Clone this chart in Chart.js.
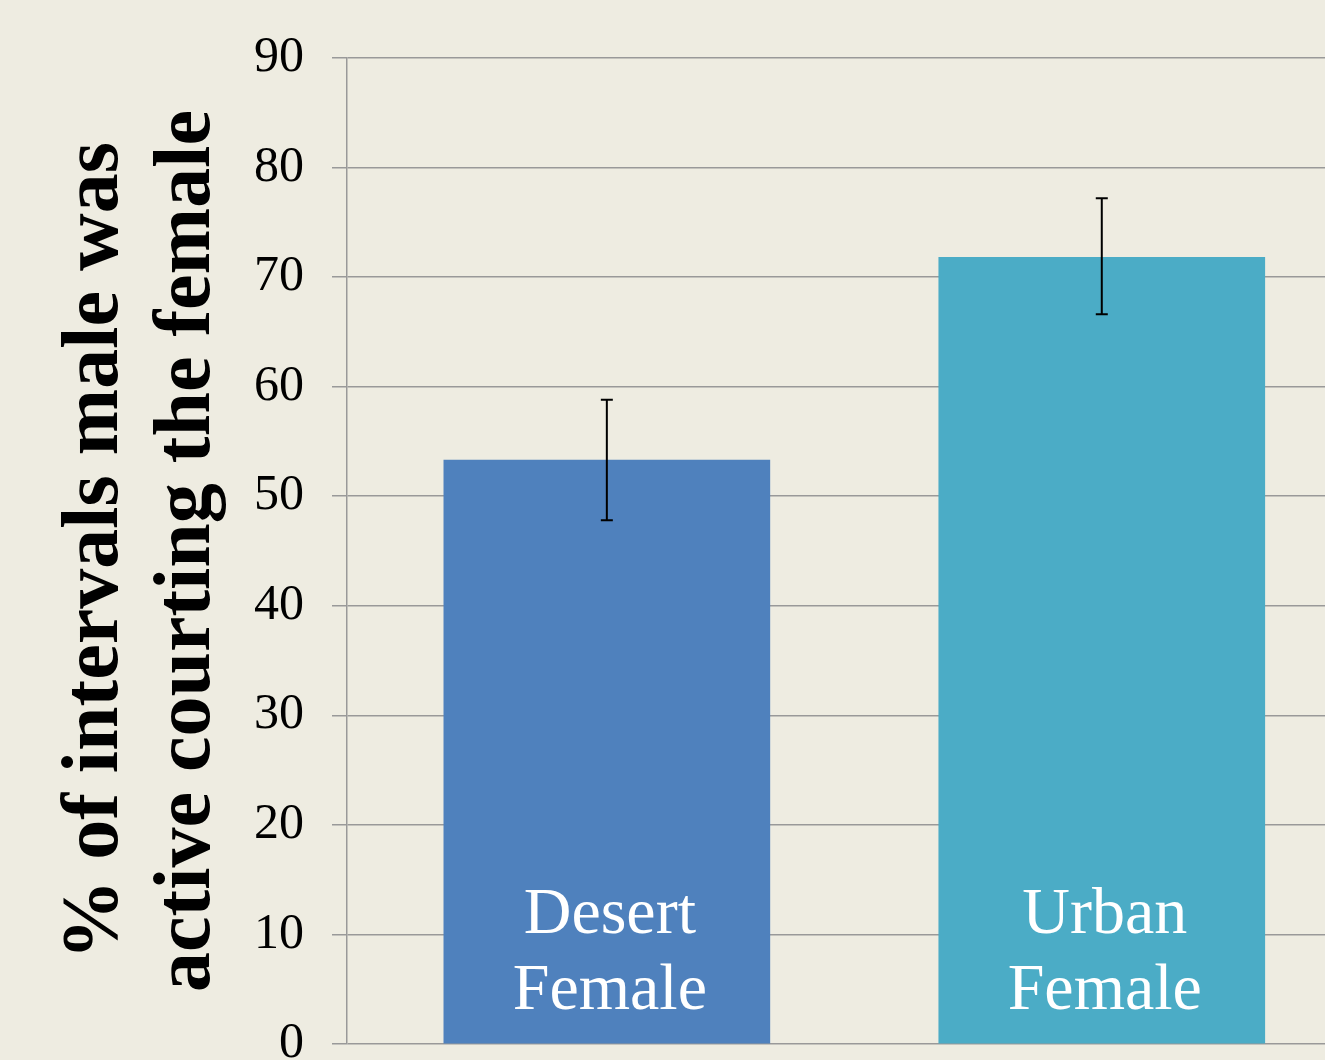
<!DOCTYPE html>
<html>
<head>
<meta charset="utf-8">
<script src="https://cdn.jsdelivr.net/npm/chart.js@4/dist/chart.umd.min.js"></script>
<style>
  html, body { margin: 0; padding: 0; background: #EEECE1; overflow: hidden; width: 1325px; height: 1060px; }
  canvas { display: block; }
</style>
</head>
<body>
<canvas id="chart" width="1325" height="1102"></canvas>
<script>
// data
const categories = [['Desert', 'Female'], ['Urban', 'Female']]
const means = [53.3, 71.8]
const errLow = [47.8, 66.6]
const errHigh = [58.8, 77.2]
const barColours = ['#4F81BD', '#4BACC6']
const yTitle = ['% of intervals male was', 'active courting the female']
const yTicks = [0, 10, 20, 30, 40, 50, 60, 70, 80, 90]

const serif = '"Liberation Serif", "Times New Roman", serif'

// error bars + white labels inside the bars
const barExtras = {
  id: 'barExtras',
  afterDatasetsDraw (chart) {
    const ctx = chart.ctx
    const y = chart.scales.y
    const meta = chart.getDatasetMeta(0)
    ctx.save()
    meta.data.forEach((bar, i) => {
      // labels
      ctx.fillStyle = '#FFFFFF'
      ctx.font = '66px ' + serif
      ctx.textAlign = 'center'
      ctx.textBaseline = 'alphabetic'
      const base = y.getPixelForValue(0)
      ctx.fillText(categories[i][0], bar.x + 3, base - 111)
      ctx.fillText(categories[i][1], bar.x + 3, base - 35)

      // error bar
      const top = y.getPixelForValue(errHigh[i])
      const bot = y.getPixelForValue(errLow[i])
      ctx.strokeStyle = '#000000'
      ctx.lineWidth = 2
      ctx.beginPath()
      ctx.moveTo(bar.x, top)
      ctx.lineTo(bar.x, bot)
      ctx.moveTo(bar.x - 6, top)
      ctx.lineTo(bar.x + 6, top)
      ctx.moveTo(bar.x - 6, bot)
      ctx.lineTo(bar.x + 6, bot)
      ctx.stroke()
    })
    ctx.restore()
  }
}

const chart = new Chart(document.getElementById('chart'), { // eslint-disable-line
  type: 'bar',
  data: {
    datasets: [{
      data: means.map((v, i) => ({ x: i, y: v })),
      backgroundColor: barColours,
      borderWidth: 0,
      barThickness: 326
    }]
  },
  options: {
    responsive: false,
    animation: false,
    devicePixelRatio: 1,
    layout: {
      padding: { top: 58, bottom: 0, left: 0, right: 0 }
    },
    plugins: {
      legend: { display: false },
      tooltip: { enabled: false }
    },
    scales: {
      x: {
        type: 'linear',
        min: -0.525,
        max: 1.451,
        offset: false,
        grid: { offset: false },
        display: false
      },
      y: {
        min: 0,
        max: 90,
        afterFit (scale) { scale.width = 347 },
        afterBuildTicks (scale) { scale.ticks = yTicks.map(v => ({ value: v })) },
        border: { display: true, color: '#999999', width: 1.5 },
        grid: {
          color: '#999999',
          lineWidth: 1.5,
          drawTicks: true,
          tickLength: 15,
          tickColor: '#999999'
        },
        ticks: {
          color: '#000000',
          padding: 28,
          font: { family: serif, size: 50 }
        },
        title: {
          display: true,
          text: yTitle,
          color: '#000000',
          padding: { top: 50, bottom: 0 },
          font: { family: serif, size: 80, weight: 'bold', lineHeight: 1.15 }
        }
      }
    }
  },
  plugins: [barExtras]
})
</script>
</body>
</html>
